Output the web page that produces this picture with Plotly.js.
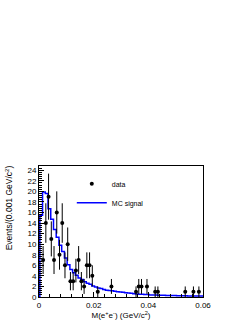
<!DOCTYPE html>
<html>
<head>
<meta charset="utf-8">
<script src="https://cdn.plot.ly/plotly-3.0.1.min.js"></script>
<style>
html,body{margin:0;padding:0;background:#fff;}
#chart{width:249px;height:323px;}
</style>
</head>
<body>
<div id="chart"></div>
<script>
// Data points (bin centres, GeV/c^2) and counts
var dataMass = [0.0015,0.0025,0.0035,0.0045,0.0055,0.0065,0.0075,0.0085,0.0095,0.0105,
                0.0115,0.0125,0.0135,0.0145,0.0155,0.0165,0.0175,0.0185,0.0195,0.0215,
                0.0265,0.0355,0.0365,0.0375,0.0395,0.0425,0.0435,0.0535,0.0565,0.0585];
var dataCounts = [7,14,19,11,7,16,8,14,6,10,
                  3,3,5,7,3,2,6,6,4,1,
                  2,1,2,2,2,1,1,1,1,1];

// MC signal histogram: first low edge, bin width, contents
var mcStart = 0.0003;
var mcBin = 0.001;
var mcValues = [15.5,19.9,19.6,16.7,14.7,12.8,11.3,9.8,8.6,7.4,
                6.1,5.2,4.6,4.1,3.6,3.3,2.9,2.6,2.4,2.1,
                1.9,1.7,1.6,1.4,1.3,1.25,1.2,1.1,1.0,0.95,
                0.9,0.8,0.75,0.7,0.6,0.55,0.5,0.5,0.45,0.45,
                0.4,0.4,0.4,0.35,0.35,0.35,0.3,0.3,0.3,0.3,
                0.25,0.25,0.25,0.25,0.2,0.2,0.2,0.2,0.2,0.2];

var xTickVals = [0,0.02,0.04,0.06];
var xTickText = ['0','0.02','0.04','0.06'];
var yTickVals = [0,2,4,6,8,10,12,14,16,18,20,22,24];

// build step outline from histogram contents
var mcX = [0], mcY = [0];
for (var i = 0; i < mcValues.length; i++) {
  mcX.push(+(mcStart + i*mcBin).toFixed(5));
  mcY.push(mcValues[i]);
}
mcX.push(+(mcStart + mcValues.length*mcBin).toFixed(5));
mcY.push(mcValues[mcValues.length-1]);

var FONT = 'Liberation Sans, Arial, Helvetica, sans-serif';

var traces = [
  {
    x: mcX, y: mcY, type: 'scatter', mode: 'lines', name: 'MC signal',
    line: {color: '#0000ff', width: 1.5, shape: 'hv'},
    cliponaxis: true
  },
  {
    x: dataMass, y: dataCounts, type: 'scatter', mode: 'markers', name: 'data',
    marker: {color: '#000', size: 4, symbol: 'circle'},
    error_y: {type: 'sqrt', visible: true, color: '#000', thickness: 1, width: 0}
  }
];

var layout = {
  width: 249, height: 323,
  margin: {l: 39, r: 46, t: 166, b: 26, pad: 0},
  paper_bgcolor: '#fff', plot_bgcolor: '#fff',
  showlegend: true,
  legend: {
    x: 0.2, y: 0.975, xanchor: 'left', yanchor: 'top',
    traceorder: 'reversed',
    bgcolor: 'rgba(0,0,0,0)', borderwidth: 0,
    font: {family: FONT, size: 7, color: '#000'},
    itemwidth: 30
  },
  xaxis: {
    range: [0, 0.06], showgrid: false, zeroline: false,
    showline: true, linecolor: '#000', linewidth: 1, mirror: true,
    ticks: 'inside', ticklen: 5, tickcolor: '#000', tickwidth: 1,
    tickvals: xTickVals, ticktext: xTickText,
    tickfont: {family: FONT, size: 8, color: '#000'},
    minor: {dtick: 0.004, ticks: 'inside', ticklen: 3, tickcolor: '#000', showgrid: false},
    title: {text: 'M(e<sup>+</sup>e<sup>-</sup>) (GeV/c<sup>2</sup>)', font: {family: FONT, size: 8, color: '#000'}, standoff: 2}
  },
  yaxis: {
    range: [0, 24.8], showgrid: false, zeroline: false,
    showline: true, linecolor: '#000', linewidth: 1, mirror: true,
    ticks: 'inside', ticklen: 5, tickcolor: '#000', tickwidth: 1,
    tickvals: yTickVals,
    tickfont: {family: FONT, size: 8, color: '#000'},
    minor: {dtick: 0.4, ticks: 'inside', ticklen: 3, tickcolor: '#000', showgrid: false}
  },
  annotations: [{
    text: 'Events/(0.001 GeV/c<sup>2</sup>)',
    xref: 'paper', yref: 'paper', x: -0.18, y: 1.02,
    xanchor: 'center', yanchor: 'top', textangle: -90, showarrow: false,
    font: {family: FONT, size: 8.5, color: '#000'}
  }]
};

Plotly.newPlot('chart', traces, layout, {displayModeBar: false, staticPlot: true});
</script>
</body>
</html>
